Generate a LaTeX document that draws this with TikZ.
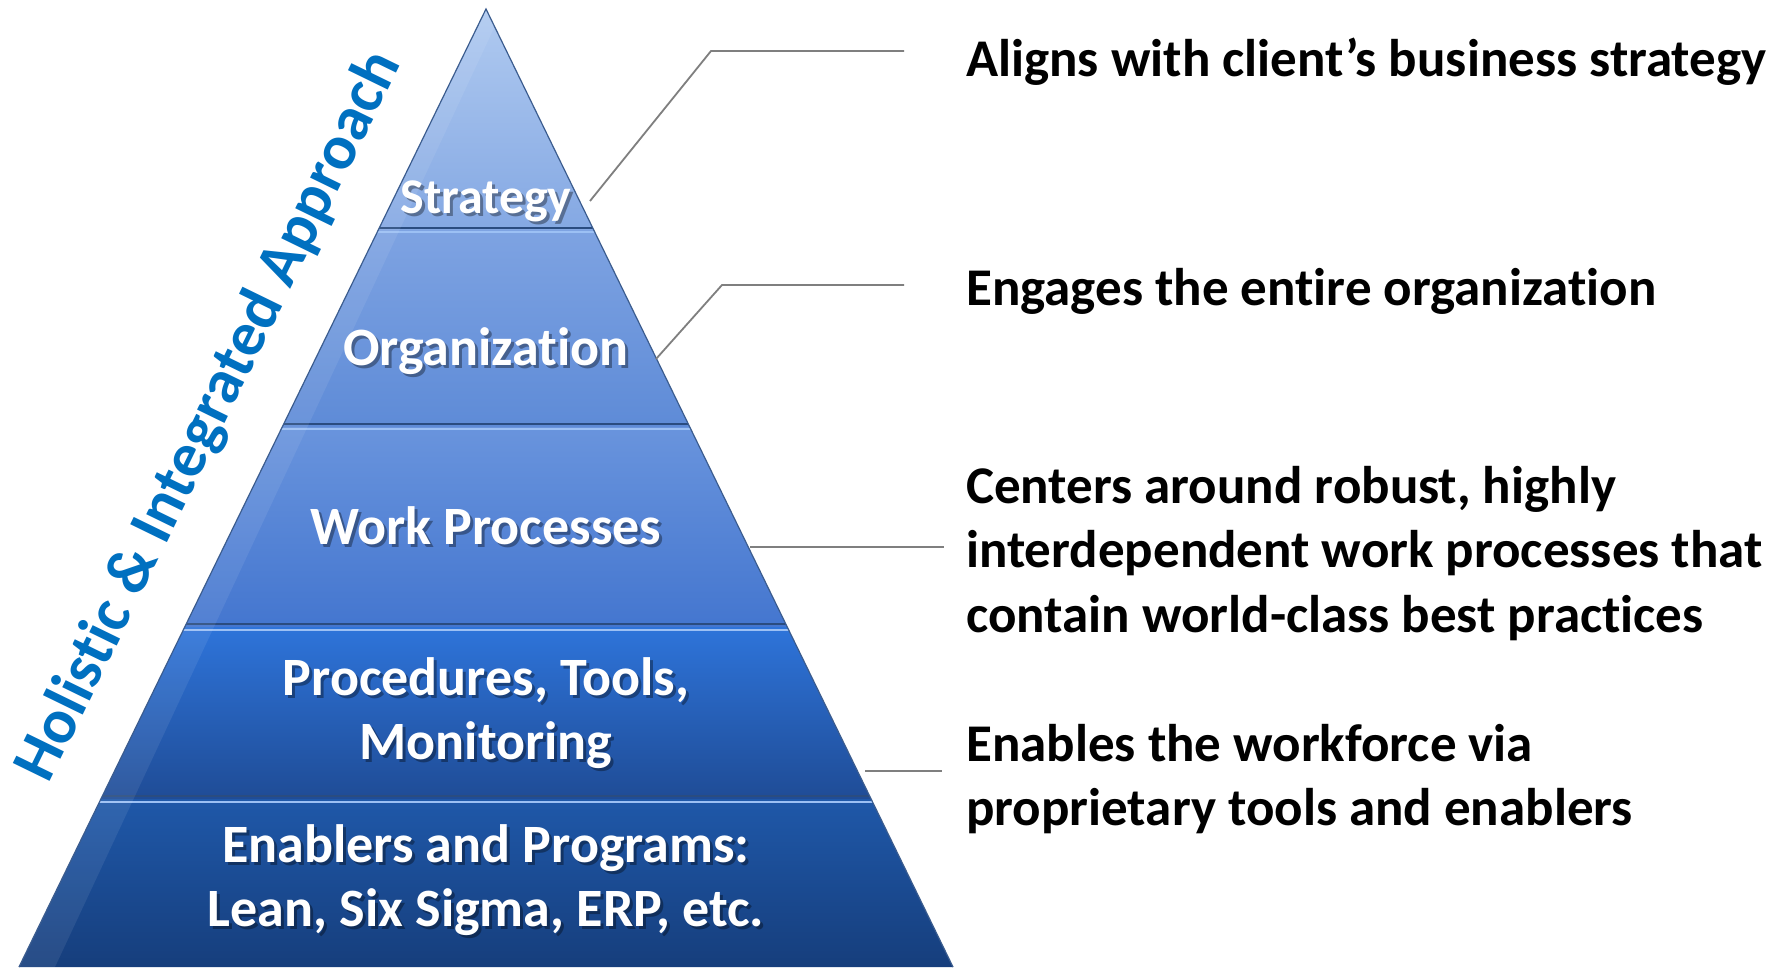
\documentclass[tikz,border=0pt]{standalone}
\usepackage{fontspec}
\setmainfont{Carlito}[Ligatures={NoCommon}]
\usetikzlibrary{calc}
\definecolor{sTop}{HTML}{B0CAF0}
\definecolor{sBot}{HTML}{84A8E3}
\definecolor{oTop}{HTML}{7EA3E2}
\definecolor{oBot}{HTML}{5E8BD7}
\definecolor{wTop}{HTML}{6994DD}
\definecolor{wBot}{HTML}{4476CF}
\definecolor{pTop}{HTML}{2E74DA}
\definecolor{pBot}{HTML}{1F4C96}
\definecolor{eTop}{HTML}{1F58A9}
\definecolor{eBot}{HTML}{163E7C}
\definecolor{sepDark}{HTML}{2A4C80}
\definecolor{sepLight}{HTML}{9CC0F4}
\definecolor{edgeCol}{HTML}{3B5C8E}
\definecolor{connCol}{HTML}{7F7F7F}
\definecolor{holiBlue}{HTML}{0070C0}
\newcommand{\mylines}[2]{\begin{tabular}[t]{@{}#1@{}}#2\end{tabular}}
\begin{document}
\begin{tikzpicture}[x=1pt,y=-1pt,
  plabel/.style={text=white, font=\fontsize{54}{64}\selectfont\bfseries, inner sep=0pt, anchor=base},
  pshadow/.style={text=black, opacity=0.35, font=\fontsize{54}{64}\selectfont\bfseries, inner sep=0pt, anchor=base},
  rtext/.style={text=black, font=\fontsize{53}{64.5}\selectfont\bfseries, inner sep=0pt, anchor=base west},
  holi/.style={text=holiBlue, font=\fontsize{63}{70}\selectfont\bfseries, inner sep=0pt, anchor=base, rotate=64},
  conn/.style={draw=connCol, line width=1.8pt},
  sepd/.style={draw=sepDark, line width=2.2pt},
  sepl/.style={draw=sepLight, line width=2pt}]
\useasboundingbox[fill=white] (0,0) rectangle (1785,967);
% pyramid corners
\coordinate (apex) at (486,9);
\coordinate (bl) at (19,967);
\coordinate (br) at (953,967);
\begin{scope}
  \clip (apex) -- (bl) -- (br) -- cycle;
  \shade[top color=sTop, bottom color=sBot] (0,9) rectangle (960,230);
  \shade[top color=oTop, bottom color=oBot] (0,230) rectangle (960,427);
  \shade[top color=wTop, bottom color=wBot] (0,427) rectangle (960,627);
  \shade[top color=pTop, bottom color=pBot] (0,627) rectangle (960,799);
  \shade[top color=eTop, bottom color=eBot] (0,799) rectangle (960,967);
  % band separators
  \draw[sepd] (0,228) -- (960,228);
  \draw[sepl] (0,232) -- (960,232);
  \draw[sepd] (0,424) -- (960,424);
  \draw[sepl] (0,429) -- (960,429);
  \draw[sepd] (0,624) -- (960,624);
  \draw[sepl] (0,630) -- (960,630);
  \draw[sepd] (0,796) -- (960,796);
  \draw[sepl] (0,802) -- (960,802);
  % light glare along the left face
  \fill[white, opacity=0.08] (apex) -- (bl) -- (55,967) -- (494,28) -- cycle;
\end{scope}
\draw[edgeCol, line width=1.2pt] (bl) -- (apex) -- (br);
% pyramid labels (shadow + text)
\node[pshadow, font=\fontsize{50}{64}\selectfont\bfseries] (sS) at (489,216) {Strategy};
\node[plabel, font=\fontsize{50}{64}\selectfont\bfseries] (s) at (486,213) {Strategy};
\node[pshadow] (oS) at (489,368) {Organization};
\node[plabel] (o) at (486,365) {Organization};
\node[pshadow] (wS) at (489,547) {Work Processes};
\node[plabel] (w) at (486,544) {Work Processes};
\node[pshadow] (pS) at (489,698) {\mylines{c}{Procedures, Tools,\\Monitoring}};
\node[plabel] (p) at (486,695) {\mylines{c}{Procedures, Tools,\\Monitoring}};
\node[pshadow] (eS) at (489,865) {\mylines{c}{Enablers and Programs:\\Lean, Six Sigma, ERP, etc.}};
\node[plabel] (e) at (486,862) {\mylines{c}{Enablers and Programs:\\Lean, Six Sigma, ERP, etc.}};
% rotated side title
\node[holi] (h) at (225,424) {Holistic \& Integrated Approach};
% right-hand texts
\node[rtext] (t1) at (966,76) {Aligns with client’s business strategy};
\node[rtext] (t2) at (966,305) {Engages the entire organization};
\node[rtext] (t3) at (966,503) {\mylines{l}{Centers around robust, highly\\interdependent work processes that\\contain world-class best practices}};
\node[rtext] (t4) at (966,761) {\mylines{l}{Enables the workforce via\\proprietary tools and enablers}};
% connectors
\coordinate (c1a) at (590,201);
\coordinate (c1b) at (711,51);
\coordinate (c1c) at (904,51);
\coordinate (c2a) at (656,359);
\coordinate (c2b) at (722,285);
\coordinate (c2c) at (904,285);
\coordinate (c3a) at (750,547);
\coordinate (c3b) at (944,547);
\coordinate (c4a) at (865,771);
\coordinate (c4b) at (942,771);
\draw[conn] (c1a) -- (c1b) -- (c1c);
\draw[conn] (c2a) -- (c2b) -- (c2c);
\draw[conn] (c3a) -- (c3b);
\draw[conn] (c4a) -- (c4b);
\end{tikzpicture}
\end{document}
